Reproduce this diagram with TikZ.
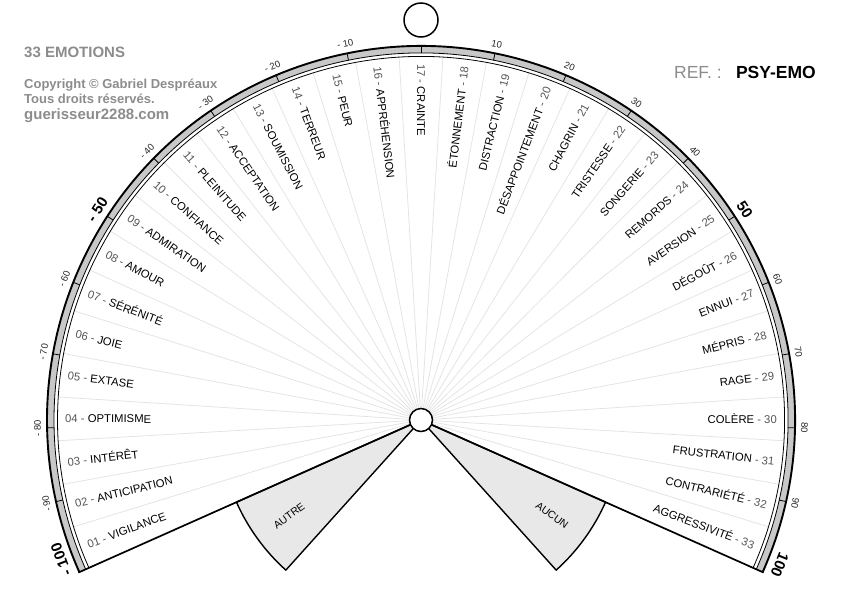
\documentclass[tikz,border=0pt]{standalone}
\usepackage{fontspec}
\setmainfont{Liberation Sans}
\definecolor{bandgrey}{HTML}{C8C8C8}
\definecolor{wedgegrey}{HTML}{E8E8E8}
\definecolor{raygrey}{HTML}{E4E4E4}
\definecolor{numgrey}{HTML}{555555}
\definecolor{headgrey}{HTML}{8C8C8C}
\begin{document}
\begin{tikzpicture}[x=1pt,y=1pt,
  lab/.style={inner sep=0pt, font=\fontsize{11.3}{12}\selectfont},
  ticklab/.style={inner sep=0pt, font=\fontsize{9.5}{10}\selectfont, text=black!85},
  biglab/.style={inner sep=0pt, font=\bfseries\fontsize{15}{16}\selectfont},
  wedgebox/.style={draw=black, line width=1.4pt, fill=wedgegrey, line join=round},
  ray/.style={draw=raygrey, line width=0.8pt},
  head/.style={inner sep=0pt, anchor=base west, text=headgrey, font=\bfseries\fontsize{13}{14}\selectfont}]
\useasboundingbox (0,-595) rectangle (842,0);
% header texts
\node[head, font=\bfseries\fontsize{15}{16}\selectfont] (title) at (24,-57) {33 EMOTIONS};
\node[head] (copy) at (24,-88) {Copyright © Gabriel Despréaux};
\node[head] (rights) at (24,-103.5) {Tous droits réservés.};
\node[head, font=\bfseries\fontsize{15}{16}\selectfont] (site) at (24,-119) {guerisseur2288.com};
\node[inner sep=0pt, anchor=base east, text=headgrey, font=\fontsize{17.5}{18}\selectfont] (ref) at (722,-78.3) {REF. :};
\node[inner sep=0pt, anchor=base east, font=\bfseries\fontsize{17.5}{18}\selectfont] (code) at (816,-78.3) {PSY-EMO};
\begin{scope}[shift={(421,-420)}]
  \coordinate (C) at (0,0);
  % radial separators
  \foreach \k in {1,...,32} {
    \pgfmathsetmacro{\b}{204-\k*228/33}
    \draw[ray] (C) -- (\b:364);
  }
  % wedges
  \draw[wedgebox] (C) -- (204:202) arc[start angle=204, end angle=228, radius=202] -- cycle;
  \draw[wedgebox] (C) -- (-24:202) arc[start angle=-24, end angle=-48, radius=202] -- cycle;
  \node[inner sep=0pt, rotate=36, font=\fontsize{10.5}{11}\selectfont] (autre) at (216:163) {AUTRE};
  \node[inner sep=0pt, rotate=-36, font=\fontsize{10.5}{11}\selectfont] (aucun) at (-36:162) {AUCUN};
  % band
  \fill[bandgrey] (-24:374) arc[start angle=-24, end angle=204, radius=374] -- (204:367) arc[start angle=204, end angle=-24, radius=367] -- cycle;
  \draw[line width=0.8pt] (-24:367) arc[start angle=-24, end angle=204, radius=367];
  \draw[line width=0.8pt] (-24:363.5) arc[start angle=-24, end angle=204, radius=363.5];
  \draw[line width=1.9pt] (-24:374) arc[start angle=-24, end angle=204, radius=374];
  % ticks
  \foreach \v in {-90,-80,...,90} {
    \pgfmathsetmacro{\t}{90-\v*1.14}
    \draw[line width=0.8pt] (\t:367) -- (\t:374);
  }
  % boundary lines
  \draw[line width=1.7pt] (C) -- (204:375);
  \draw[line width=1.7pt] (C) -- (-24:375);
  % tick labels
  \foreach \v in {10,20,30,40,60,70,80,90} {
    \pgfmathsetmacro{\tr}{90-\v*1.14}
    \pgfmathsetmacro{\tl}{90+\v*1.14}
    \node[ticklab, rotate=\tr-90] (tr\v) at (\tr:383.5) {\v};
    \node[ticklab, rotate=\tl-90] (tl\v) at (\tl:383.5) {- \v};
  }
  \node[biglab, rotate=57] (lf) at (147:386) {- 50};
  \node[biglab, rotate=-57] (rf) at (33:386) {50};
  \node[biglab, rotate=111] (lh) at (201.2:386) {- 100};
  \node[biglab, rotate=-112] (rh) at (-22:387) {100};
  % circles
  \node[circle, draw, line width=1.5pt, fill=white, minimum size=23pt, inner sep=0pt] (hub) at (C) {};
  \node[circle, draw, line width=1.5pt, fill=white, minimum size=34pt, inner sep=0pt] (top) at (0,400) {};
  % emotion labels
  \foreach \n/\name [count=\i] in {01/VIGILANCE, 02/ANTICIPATION, 03/INTÉRÊT, 04/OPTIMISME, 05/EXTASE, 06/JOIE, 07/SÉRÉNITÉ, 08/AMOUR, 09/ADMIRATION, 10/CONFIANCE, 11/PLEINITUDE, 12/ACCEPTATION, 13/SOUMISSION, 14/TERREUR, 15/PEUR, 16/APPRÉHENSION, 17/CRAINTE, 18/ÉTONNEMENT, 19/DISTRACTION, 20/DÉSAPPOINTEMENT, 21/CHAGRIN, 22/TRISTESSE, 23/SONGERIE, 24/REMORDS, 25/AVERSION, 26/DÉGOÛT, 27/ENNUI, 28/MÉPRIS, 29/RAGE, 30/COLÈRE, 31/FRUSTRATION, 32/CONTRARIÉTÉ, 33/AGGRESSIVITÉ} {
    \pgfmathsetmacro{\a}{204-(\i-0.5)*228/33}
    \ifnum\i<18
      \node[lab, anchor=west, rotate=\a-180] (e\i) at (\a:356) {\textcolor{numgrey}{\n\ -} \name};
    \else
      \node[lab, anchor=east, rotate=\a] (e\i) at (\a:356) {\name\ \textcolor{numgrey}{- \n}};
    \fi
  }
\end{scope}
\end{tikzpicture}
\end{document}
